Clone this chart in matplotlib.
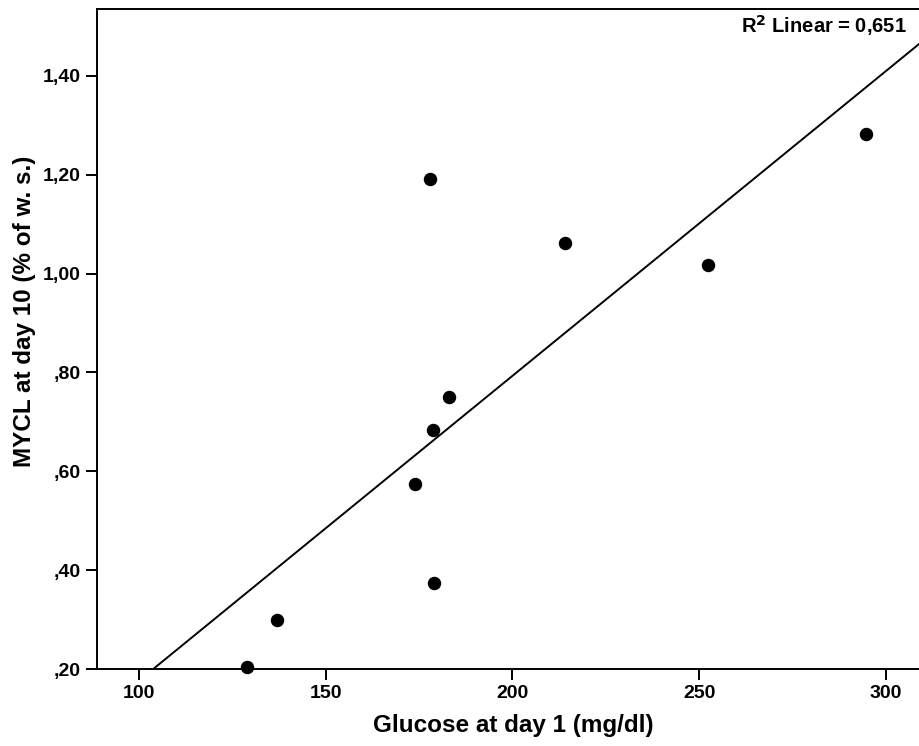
import numpy as np
import matplotlib.pyplot as plt

plt.rcParams['font.family'] = ['Liberation Sans', 'DejaVu Sans']
plt.rcParams['font.weight'] = 'bold'
plt.rcParams['axes.labelweight'] = 'bold'

glucose = [128.8, 137.0, 178.0, 214.1, 252.4, 294.8, 183.0, 178.8, 173.9, 179.0]
mycl = [0.205, 0.299, 1.191, 1.061, 1.017, 1.282, 0.750, 0.683, 0.574, 0.374]
xticks = [100, 150, 200, 250, 300]
yticks = [0.20, 0.40, 0.60, 0.80, 1.00, 1.20, 1.40]
ylabels = [',20', ',40', ',60', ',80', '1,00', '1,20', '1,40']

fig = plt.figure(figsize=(9.19, 7.46), dpi=100)
ax = fig.add_axes([0.1055, 0.1032, 0.8945, 0.8847])

ax.scatter(glucose, mycl, s=75, color='black', zorder=3, clip_on=False)

# linear fit
b, a = np.polyfit(glucose, mycl, 1)
xs = np.array([80, 320])
ax.plot(xs, a + b * xs, color='black', lw=1.4)

ax.set_xlim(88.7, 308.9)
ax.set_ylim(0.2, 1.535)
ax.set_xticks(xticks)
ax.set_yticks(yticks)
ax.set_yticklabels(ylabels)
ax.tick_params(labelsize=14, width=1.4, length=8, direction='out')
ax.spines['right'].set_visible(False)
for s in ['left', 'top', 'bottom']:
  ax.spines[s].set_linewidth(1.4)

ax.set_xlabel('Glucose at day 1 (mg/dl)', fontsize=17.5, va='center')
ax.xaxis.set_label_coords(0.507, -0.085)
ax.set_ylabel('MYCL at day 10 (% of w. s.)', fontsize=17.5, va='center')
ax.yaxis.set_label_coords(-0.0876, 0.542)
ax.text(0.985, 0.994, 'R$^{\\mathbf{2}}$ Linear = 0,651', transform=ax.transAxes,
        ha='right', va='top', fontsize=14.5)

fig.savefig('out.png', dpi=100)
